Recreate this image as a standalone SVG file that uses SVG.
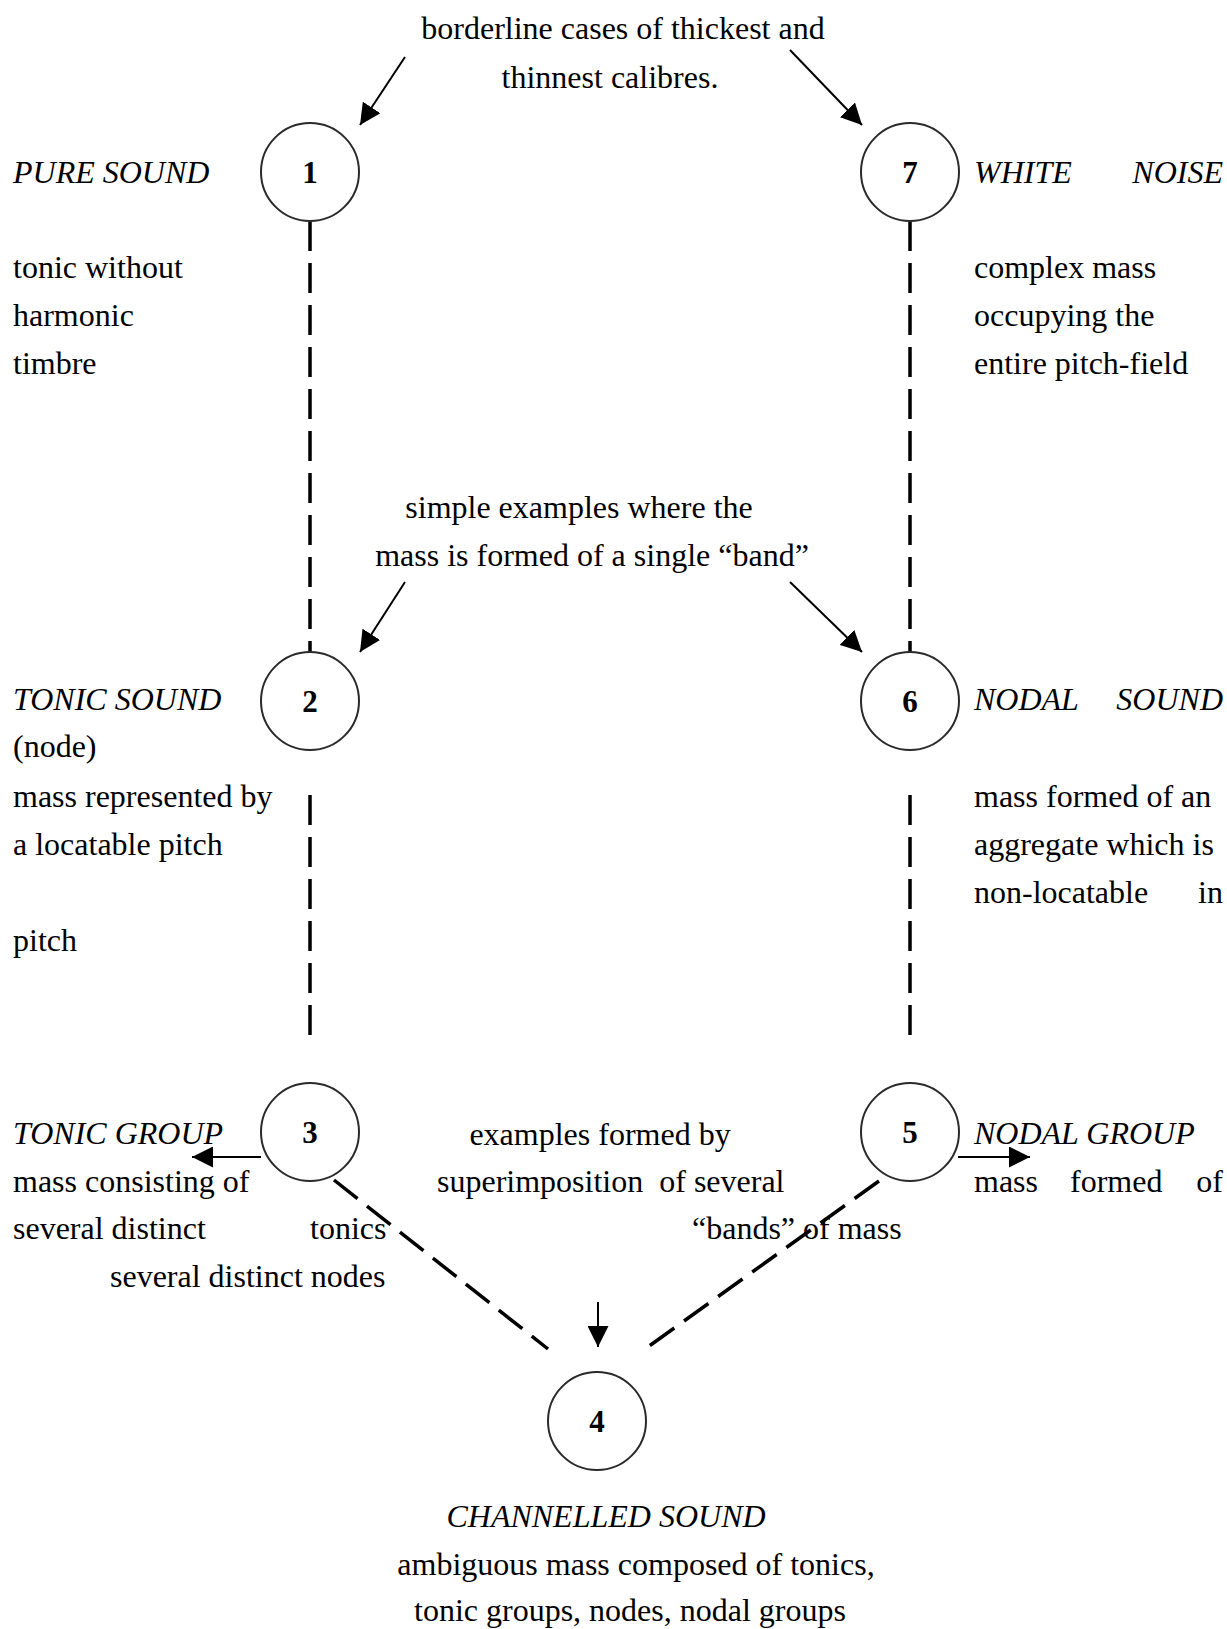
<svg xmlns="http://www.w3.org/2000/svg" width="1227" height="1629" viewBox="0 0 1227 1629">
<style>
text{font-family:"Liberation Serif","Times New Roman",serif;font-size:32px;fill:#000}
.it{font-style:italic}
.num{font-weight:bold;font-size:31px;text-anchor:middle}
.c{text-anchor:middle}
.r{text-anchor:end}
.node circle{fill:#fff;stroke:#2a2a2a;stroke-width:2}
.dash{stroke:#000;stroke-width:3.5;stroke-dasharray:30 12;fill:none}
.arr{stroke:#000;stroke-width:2;fill:none;marker-end:url(#ah)}
</style>
<defs>
<marker id="ah" viewBox="0 0 10 10" refX="10" refY="5" markerWidth="21" markerHeight="21" markerUnits="userSpaceOnUse" orient="auto">
<path d="M0,0 L10,5 L0,10 z" fill="#000"/>
</marker>
</defs>
<g id="connectors">
<line class="dash" x1="310" y1="221" x2="310" y2="652"/>
<line class="dash" x1="310" y1="795" x2="310" y2="1039"/>
<line class="dash" x1="910" y1="221" x2="910" y2="652"/>
<line class="dash" x1="910" y1="795" x2="910" y2="1039"/>
<line class="dash" x1="334" y1="1180" x2="548" y2="1349"/>
<line class="dash" x1="879" y1="1181" x2="645" y2="1349"/>
<line class="arr" x1="405" y1="57" x2="360" y2="125"/>
<line class="arr" x1="790" y1="50" x2="862" y2="125"/>
<line class="arr" x1="405" y1="582" x2="360" y2="652"/>
<line class="arr" x1="790" y1="582" x2="862" y2="652"/>
<line class="arr" x1="261" y1="1157" x2="192" y2="1157"/>
<line class="arr" x1="958" y1="1157" x2="1030" y2="1157"/>
<line class="arr" x1="598" y1="1302" x2="598" y2="1347"/>
</g>
<g id="n1" class="node"><circle cx="310" cy="172" r="49"/><text class="num" x="310" y="183">1</text></g>
<g id="n2" class="node"><circle cx="310" cy="701" r="49"/><text class="num" x="310" y="712">2</text></g>
<g id="n3" class="node"><circle cx="310" cy="1132" r="49"/><text class="num" x="310" y="1143">3</text></g>
<g id="n4" class="node"><circle cx="597" cy="1421" r="49"/><text class="num" x="597" y="1432">4</text></g>
<g id="n5" class="node"><circle cx="910" cy="1132" r="49"/><text class="num" x="910" y="1143">5</text></g>
<g id="n6" class="node"><circle cx="910" cy="701" r="49"/><text class="num" x="910" y="712">6</text></g>
<g id="n7" class="node"><circle cx="910" cy="172" r="49"/><text class="num" x="910" y="183">7</text></g>
<g id="labels">
<text class="c" x="623" y="39">borderline cases of thickest and</text>
<text class="c" x="610" y="88">thinnest calibres.</text>
<text class="it" x="13" y="183">PURE SOUND</text>
<text class="it" x="974" y="183">WHITE</text>
<text class="it r" x="1223" y="183">NOISE</text>
<text x="13" y="278">tonic without</text>
<text x="13" y="326">harmonic</text>
<text x="13" y="374">timbre</text>
<text x="974" y="278">complex mass</text>
<text x="974" y="326">occupying the</text>
<text x="974" y="374">entire pitch-field</text>
<text class="c" x="579" y="518">simple examples where the</text>
<text class="c" x="592" y="566">mass is formed of a single “band”</text>
<text class="it" x="13" y="710">TONIC SOUND</text>
<text class="it" x="974" y="710">NODAL</text>
<text class="it r" x="1223" y="710">SOUND</text>
<text x="13" y="757">(node)</text>
<text x="13" y="807">mass represented by</text>
<text x="13" y="855">a locatable pitch</text>
<text x="13" y="951">pitch</text>
<text x="974" y="807">mass formed of an</text>
<text x="974" y="855">aggregate which is</text>
<text x="974" y="903">non-locatable</text>
<text class="r" x="1223" y="903">in</text>
<text class="it" x="13" y="1144">TONIC GROUP</text>
<text class="c" x="600" y="1145">examples formed by</text>
<text class="it" x="974" y="1144">NODAL GROUP</text>
<text x="13" y="1192">mass consisting of</text>
<text x="437" y="1192" xml:space="preserve">superimposition  of several</text>
<text x="974" y="1192">mass</text>
<text x="1070" y="1192">formed</text>
<text class="r" x="1223" y="1192">of</text>
<text x="13" y="1239">several distinct</text>
<text x="310" y="1239">tonics</text>
<text x="692" y="1239">“bands” of mass</text>
<text x="110" y="1287">several distinct nodes</text>
<text class="it c" x="606" y="1527">CHANNELLED SOUND</text>
<text class="c" x="636" y="1575">ambiguous mass composed of tonics,</text>
<text class="c" x="630" y="1621">tonic groups, nodes, nodal groups</text>
</g>
</svg>
